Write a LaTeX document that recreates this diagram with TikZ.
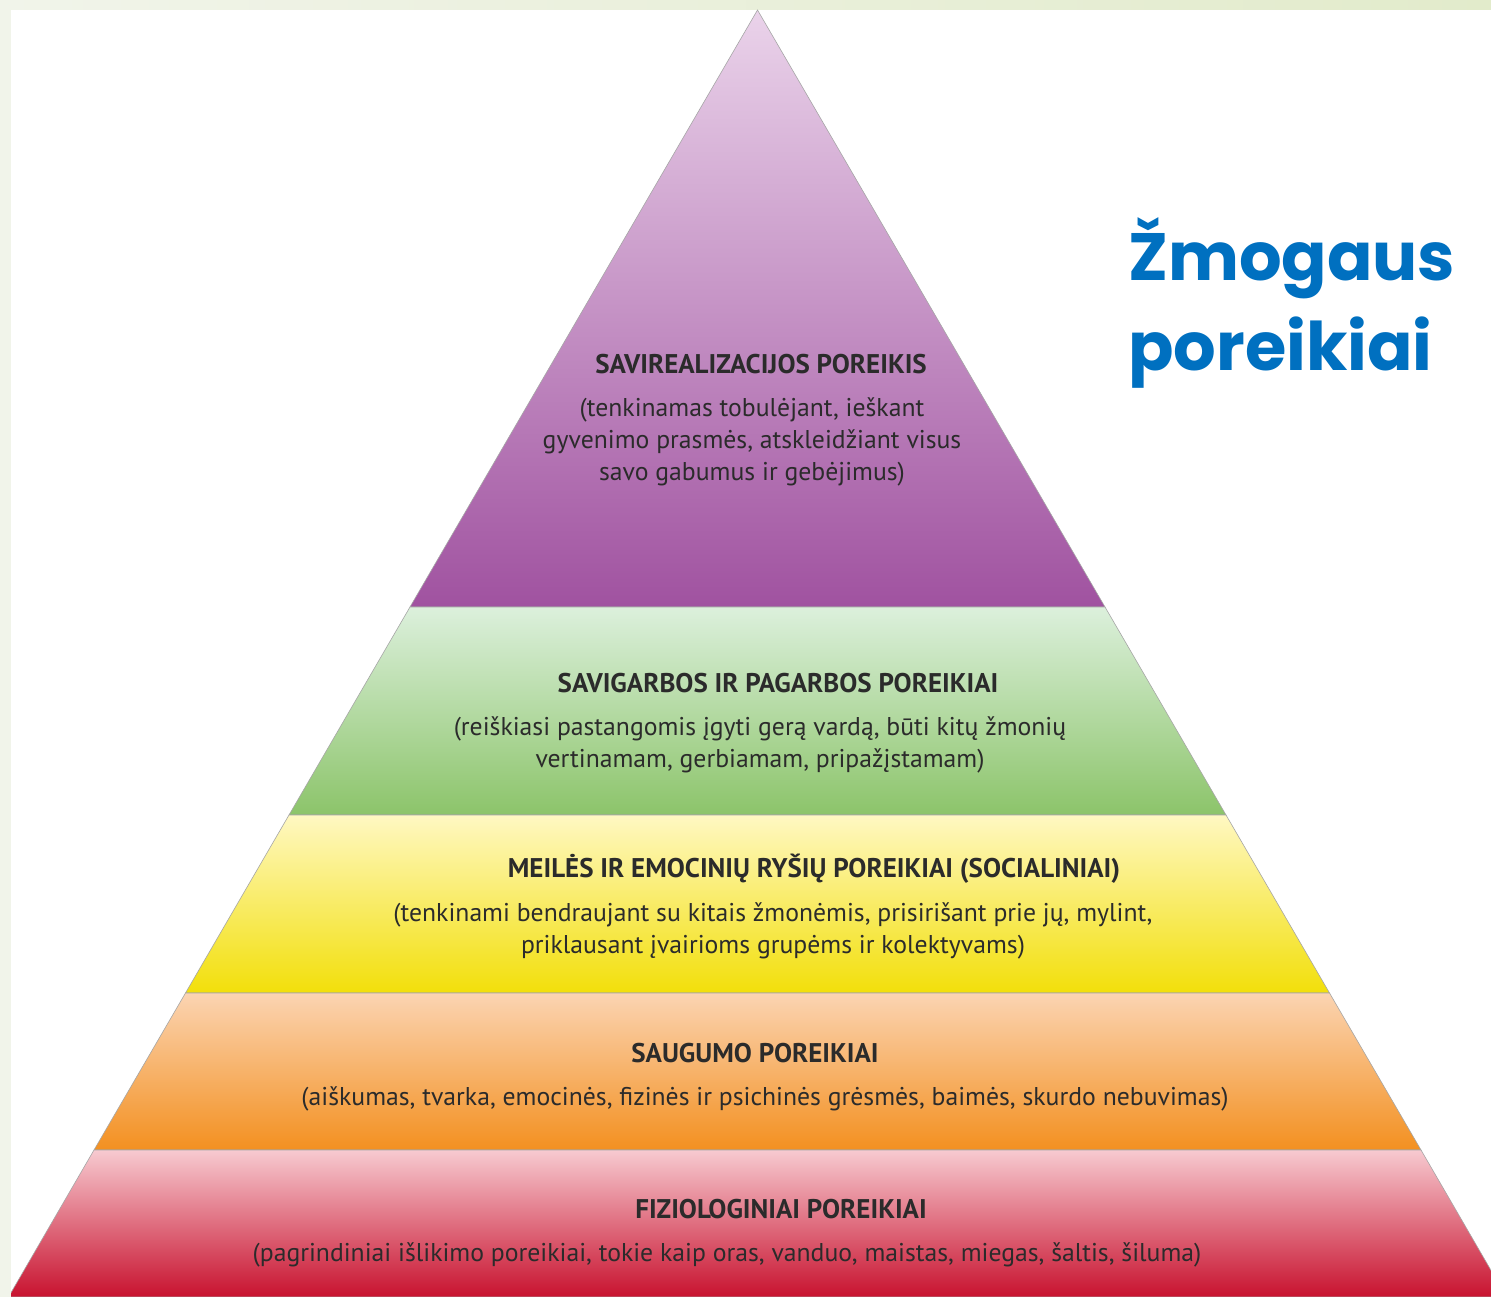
\documentclass[tikz,border=0pt]{standalone}
\usepackage{fontspec}
\setmainfont{PT Sans}
\newfontfamily\titlefont{Poppins}
\definecolor{framel}{HTML}{F1F4EA}
\definecolor{framer}{HTML}{E2EBCB}
\definecolor{txt}{HTML}{2B2B2B}
\definecolor{ttl}{HTML}{0070C0}
\definecolor{pTop}{HTML}{EAD3EA}
\definecolor{pBot}{HTML}{A052A0}
\definecolor{gTop}{HTML}{DCF0DC}
\definecolor{gBot}{HTML}{8CC46A}
\definecolor{yTop}{HTML}{FFF8C2}
\definecolor{yBot}{HTML}{F2DF0A}
\definecolor{oTop}{HTML}{FBD4B2}
\definecolor{oBot}{HTML}{F39020}
\definecolor{rTop}{HTML}{F7CAD0}
\definecolor{rBot}{HTML}{C8122F}
\tikzset{
  head/.style={text=txt, font=\fontsize{27}{31}\selectfont\bfseries, inner sep=0pt, anchor=center},
  body/.style={text=txt, font=\fontsize{25.7}{32}\selectfont, align=center, inner sep=0pt, anchor=center},
  band/.style={draw=black!35, line width=0.6pt},
  ttlstyle/.style={text=ttl, font=\titlefont\fontsize{67}{90}\selectfont\bfseries, anchor=base west, inner sep=0pt},
}
\begin{document}
\begin{tikzpicture}[x=1pt,y=-1pt]
\useasboundingbox (0,0) rectangle (1491,1297);
% frame
\shade[left color=framel, right color=framer] (0,0) rectangle (1491,1297);
\fill[white] (11,10) rectangle (1491,1297);
\begin{scope}
\clip (11,10) rectangle (1491,1297);
\shade[band, top color=pTop, bottom color=pBot] (757.5,10) -- (1105,607) -- (410,607) -- cycle;
\shade[band, top color=gTop, bottom color=gBot] (410,607) -- (1105,607) -- (1226,815) -- (289,815) -- cycle;
\shade[band, top color=yTop, bottom color=yBot] (289,815) -- (1226,815) -- (1329.5,993) -- (185.5,993) -- cycle;
\shade[band, top color=oTop, bottom color=oBot] (185.5,993) -- (1329.5,993) -- (1421,1150) -- (94,1150) -- cycle;
\shade[band, top color=rTop, bottom color=rBot] (94,1150) -- (1421,1150) -- (1506.5,1297) -- (8.5,1297) -- cycle;
\end{scope}
% texts
\node[head] (h1) at (761,364) {SAVIREALIZACIJOS POREIKIS};
\node[body] (b1) at (752,442) {(tenkinamas tobulėjant, ieškant\\gyvenimo prasmės, atskleidžiant visus\\savo gabumus ir gebėjimus)};
\node[head] (h2) at (778,683) {SAVIGARBOS IR PAGARBOS POREIKIAI};
\node[body] (b2) at (760,745) {(reiškiasi pastangomis įgyti gerą vardą, būti kitų žmonių\\vertinamam, gerbiamam, pripažįstamam)};
\node[head] (h3) at (814,869) {MEILĖS IR EMOCINIŲ RYŠIŲ POREIKIAI (SOCIALINIAI)};
\node[body] (b3) at (773,931) {(tenkinami bendraujant su kitais žmonėmis, prisirišant prie jų, mylint,\\priklausant įvairioms grupėms ir kolektyvams)};
\node[head] (h4) at (755,1053) {SAUGUMO POREIKIAI};
\node[body] (b4) at (765,1099) {(aiškumas, tvarka, emocinės, fizinės ir psichinės grėsmės, baimės, skurdo nebuvimas)};
\node[head] (h5) at (781,1209) {FIZIOLOGINIAI POREIKIAI};
\node[body] (b5) at (727,1255) {(pagrindiniai išlikimo poreikiai, tokie kaip oras, vanduo, maistas, miegas, šaltis, šiluma)};
% title
\node[ttlstyle] (title1) at (1128,280) {Žmogaus};
\node[ttlstyle] (title2) at (1128,370) {poreikiai};
\end{tikzpicture}
\end{document}
